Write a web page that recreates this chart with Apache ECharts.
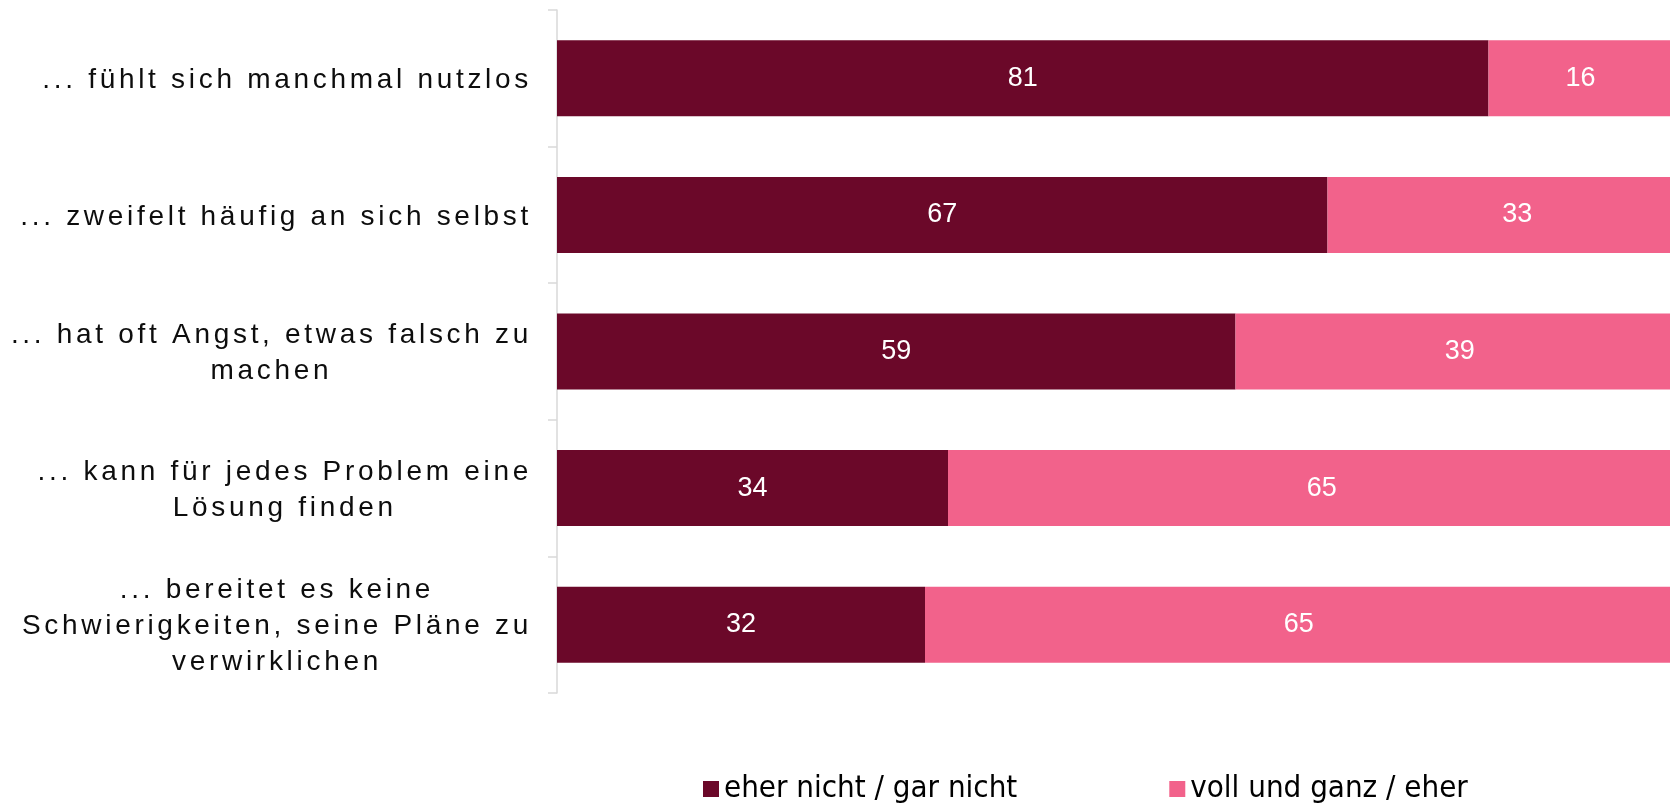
<!DOCTYPE html>
<html>
<head>
<meta charset="utf-8">
<script src="https://cdn.jsdelivr.net/npm/echarts@6/dist/echarts.min.js"></script>
<style>
  html, body { margin: 0; padding: 0; background: #fff; }
  #main { width: 1670px; height: 803px; }
</style>
</head>
<body>
<div id="main"></div>
<script>
// Aussagen (von oben nach unten)
var categories = [
  '... fühlt sich manchmal nutzlos',
  '... zweifelt häufig an sich selbst',
  '... hat oft Angst, etwas falsch zu\nmachen',
  '... kann für jedes Problem eine\nLösung finden',
  '... bereitet es keine\nSchwierigkeiten, seine Pläne zu\nverwirklichen'
];
var seriesNames = ['eher nicht / gar nicht', 'voll und ganz / eher'];
var eherNicht = [81, 67, 59, 34, 32];
var vollUndGanz = [16, 33, 39, 65, 65];

// die Achsenbeschriftung ist im Original gesperrt gesetzt; ECharts kennt kein letterSpacing,
// deshalb am Canvas-Font hängen (gilt fürs Messen und fürs Zeichnen)
var fontProp = Object.getOwnPropertyDescriptor(CanvasRenderingContext2D.prototype, 'font');
Object.defineProperty(CanvasRenderingContext2D.prototype, 'font', {
  get: function () { return fontProp.get.call(this); },
  set: function (v) {
    fontProp.set.call(this, v);
    this.letterSpacing = String(v).indexOf('28px') > -1 ? '3.7px' : '0px';
  }
});

var chart = echarts.init(document.getElementById('main'), null, { renderer: 'canvas' });

chart.setOption({
  backgroundColor: '#fff',
  animation: false,
  // im Original ist die 100%-Marke rechts abgeschnitten -> Grid breiter als die Seite
  grid: { left: 557, width: 1150, top: 10, bottom: 110, outerBoundsMode: 'none' },
  legend: {
    data: seriesNames,
    left: 703,
    top: 767,
    padding: 0,
    icon: 'rect',
    itemWidth: 16,
    itemHeight: 16,
    itemGap: 152,
    textStyle: {
      color: '#000',
      fontSize: 31,
      lineHeight: 38,
      padding: [6, 0, 0, 0],
      fontFamily: "'Liberation Sans Narrow', 'DejaVu Sans Condensed', sans-serif"
    }
  },
  xAxis: {
    type: 'value',
    min: 0,
    max: 100,
    show: false
  },
  yAxis: {
    type: 'category',
    inverse: true,
    data: categories,
    axisLine: { show: true, lineStyle: { color: '#d9d9d9', width: 1.5 } },
    axisTick: { show: true, length: 9, lineStyle: { color: '#d9d9d9', width: 1.5 } },
    axisLabel: {
      margin: 25,
      formatter: function (value) {
        return value.split('\n').map(function (l) { return '{c|' + l + '}'; }).join('\n');
      },
      rich: {
        c: {
          align: 'center',
          color: '#0d0d0d',
          fontSize: 28,
          lineHeight: 36,
          padding: [4, 0, 0, 0],
          fontFamily: "'Liberation Sans', Arial, sans-serif"
        }
      }
    }
  },
  series: [
    {
      name: seriesNames[0],
      type: 'bar',
      stack: 'total',
      barWidth: 76,
      clip: false,
      data: eherNicht,
      itemStyle: { color: '#6b0829' },
      label: {
        show: true,
        position: 'inside',
        color: '#fff',
        fontSize: 27,
        fontFamily: "'Liberation Sans', Arial, sans-serif"
      }
    },
    {
      name: seriesNames[1],
      type: 'bar',
      stack: 'total',
      barWidth: 76,
      clip: false,
      data: vollUndGanz,
      itemStyle: { color: '#f2628b' },
      label: {
        show: true,
        position: 'inside',
        color: '#fff',
        fontSize: 27,
        fontFamily: "'Liberation Sans', Arial, sans-serif"
      }
    }
  ]
});
</script>
</body>
</html>
